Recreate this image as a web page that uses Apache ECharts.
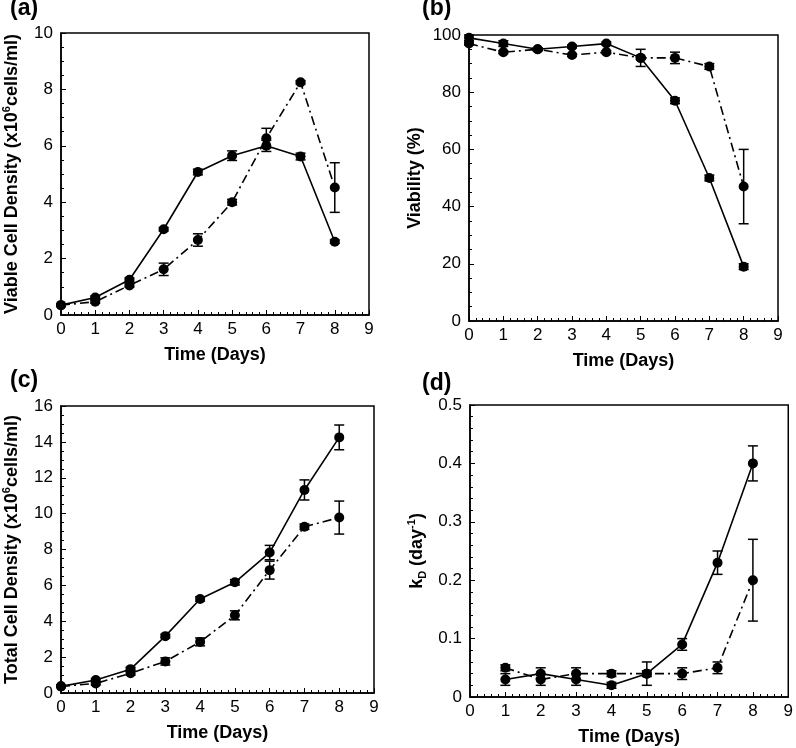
<!DOCTYPE html>
<html>
<head>
<meta charset="utf-8">
<script src="https://cdn.jsdelivr.net/npm/echarts@6/dist/echarts.min.js"></script>
<style>
html,body{margin:0;padding:0;background:#fff;}
#chart{width:796px;height:748px;}
</style>
</head>
<body>
<div id="chart"></div>
<script>
// ---------- data ----------
const days = [0, 1, 2, 3, 4, 5, 6, 7, 8];
const daysD = [1, 2, 3, 4, 5, 6, 7, 8];
const xTicks = [0, 1, 2, 3, 4, 5, 6, 7, 8, 9];

// (a) Viable cell density (x10^6 cells/ml)
const viableSolid = [0.35, 0.62, 1.25, 3.04, 5.07, 5.65, 6.0, 5.62, 2.6];
const viableSolidErr = [0.03, 0.05, 0.06, 0.06, 0.1, 0.17, 0.2, 0.12, 0.06];
const viableDash = [0.35, 0.47, 1.05, 1.62, 2.66, 4.0, 6.27, 8.25, 4.52];
const viableDashErr = [0.03, 0.05, 0.06, 0.22, 0.22, 0.1, 0.35, 0.06, 0.88];

// (b) Viability (%)
const viabSolid = [99, 97, 95, 96, 97, 92, 77, 50, 19];
const viabSolidErr = [1, 1, 0.5, 0.5, 0.5, 3, 1, 1, 1];
const viabDash = [97, 94, 95, 93, 94, 92, 92, 89, 47];
const viabDashErr = [0.5, 0.5, 0.5, 0.5, 0.5, 0.5, 2, 1, 13];

// (c) Total cell density (x10^6 cells/ml)
const totalSolid = [0.37, 0.72, 1.33, 3.17, 5.24, 6.17, 7.83, 11.32, 14.25];
const totalSolidErr = [0.05, 0.08, 0.1, 0.1, 0.12, 0.15, 0.4, 0.56, 0.69];
const totalDash = [0.37, 0.53, 1.1, 1.76, 2.85, 4.33, 6.85, 9.27, 9.78];
const totalDashErr = [0.05, 0.08, 0.1, 0.2, 0.22, 0.25, 0.5, 0.15, 0.92];

// (d) kD (day^-1)
const kdSolid = [0.03, 0.04, 0.03, 0.02, 0.04, 0.09, 0.23, 0.40];
const kdSolidErr = [0.01, 0.01, 0.01, 0.005, 0.02, 0.01, 0.02, 0.03];
const kdDash = [0.05, 0.03, 0.04, 0.04, 0.04, 0.04, 0.05, 0.20];
const kdDashErr = [0.005, 0.01, 0.01, 0.005, 0.005, 0.01, 0.01, 0.07];

// ---------- chart ----------
const FONT = 'Liberation Sans, Arial, sans-serif';
const BLACK = '#000';
const DASHDOT = [9, 4, 2, 4];

const grids = [
  {left: 59, top: 33, width: 310, height: 282},
  {left: 469, top: 35, width: 309, height: 286},
  {left: 59, top: 406, width: 315, height: 287},
  {left: 470, top: 405, width: 319, height: 292}
].map(g => Object.assign({show: true, borderColor: BLACK, borderWidth: 1.5, backgroundColor: 'transparent', containLabel: false}, g));

const yCfg = [
  {min: 0, max: 10, interval: 2, minor: 4, gap: 38,
   name: '{t|Viable Cell Density (x10}{sup|6}{t|cells/ml)}'},
  {min: 0, max: 100, interval: 20, minor: 4, gap: 43,
   name: '{t|Viability (%)}'},
  {min: 0, max: 16, interval: 2, minor: 4, gap: 38,
   name: '{t|Total Cell Density (x10}{sup|6}{t|cells/ml)}'},
  {min: 0, max: 0.5, interval: 0.1, minor: 5, gap: 42,
   name: '{t|k}{sub|D}{t| (day}{sup|-1}{t|)}'}
];

const richName = {
  t: {fontFamily: FONT, fontSize: 18, fontWeight: 'bold', color: BLACK, lineHeight: 22, verticalAlign: 'middle'},
  sup: {fontFamily: FONT, fontSize: 11, fontWeight: 'bold', color: BLACK, lineHeight: 22, verticalAlign: 'top', padding: [0, 0, 10, 0]},
  sub: {fontFamily: FONT, fontSize: 11, fontWeight: 'bold', color: BLACK, lineHeight: 22, verticalAlign: 'bottom', padding: [8, 0, 0, 0]}
};

const xAxes = grids.map((g, i) => ({
  type: 'value', gridIndex: i, min: xTicks[0], max: xTicks[xTicks.length - 1], interval: 1,
  name: 'Time (Days)', nameLocation: 'middle', nameGap: 31,
  nameTextStyle: {fontFamily: FONT, fontSize: 18, fontWeight: 'bold', color: BLACK},
  axisLine: {show: true, onZero: false, lineStyle: {color: BLACK, width: 1.5}},
  axisTick: {show: true, inside: true, length: 5, lineStyle: {color: BLACK, width: 1}},
  minorTick: {show: true, splitNumber: 5, length: 3, lineStyle: {color: BLACK, width: 1}},
  splitLine: {show: false}, minorSplitLine: {show: false},
  axisLabel: {fontFamily: FONT, fontSize: 17, color: BLACK, margin: 6}
}));

const yAxes = yCfg.map((c, i) => ({
  type: 'value', gridIndex: i, min: c.min, max: c.max, interval: c.interval,
  name: c.name, nameLocation: 'middle', nameGap: c.gap, nameRotate: 90,
  nameTextStyle: {rich: richName},
  axisLine: {show: true, onZero: false, lineStyle: {color: BLACK, width: 1.5}},
  axisTick: {show: true, inside: true, length: 5, lineStyle: {color: BLACK, width: 1}},
  minorTick: {show: true, splitNumber: c.minor, length: 3, lineStyle: {color: BLACK, width: 1}},
  splitLine: {show: false}, minorSplitLine: {show: false},
  axisLabel: {fontFamily: FONT, fontSize: 17, color: BLACK, margin: 8}
}));

function pairs(xs, ys) { return xs.map((x, i) => [x, ys[i]]); }
function triples(xs, ys, es) { return xs.map((x, i) => [x, ys[i], es[i]]); }

function lineSeries(idx, xs, ys, dash) {
  return {
    type: 'line', xAxisIndex: idx, yAxisIndex: idx, data: pairs(xs, ys),
    symbol: 'circle', symbolSize: 10, showSymbol: true,
    itemStyle: {color: BLACK},
    lineStyle: {color: BLACK, width: 1.6, type: dash ? DASHDOT : 'solid'},
    z: 3, animation: false, silent: true
  };
}

function errSeries(idx, xs, ys, es) {
  return {
    type: 'custom', xAxisIndex: idx, yAxisIndex: idx, data: triples(xs, ys, es),
    encode: {x: 0, y: 1}, z: 4, animation: false, silent: true, clip: false,
    renderItem: function (params, api) {
      const x = api.value(0), y = api.value(1), e = api.value(2);
      const top = api.coord([x, y + e]);
      const bot = api.coord([x, y - e]);
      const hw = 5;
      const st = {stroke: BLACK, lineWidth: 1.5};
      return {
        type: 'group',
        children: [
          {type: 'line', shape: {x1: top[0], y1: top[1], x2: bot[0], y2: bot[1]}, style: st},
          {type: 'line', shape: {x1: top[0] - hw, y1: top[1], x2: top[0] + hw, y2: top[1]}, style: st},
          {type: 'line', shape: {x1: bot[0] - hw, y1: bot[1], x2: bot[0] + hw, y2: bot[1]}, style: st}
        ]
      };
    }
  };
}

const series = [
  lineSeries(0, days, viableSolid, false), lineSeries(0, days, viableDash, true),
  errSeries(0, days, viableSolid, viableSolidErr), errSeries(0, days, viableDash, viableDashErr),
  lineSeries(1, days, viabSolid, false), lineSeries(1, days, viabDash, true),
  errSeries(1, days, viabSolid, viabSolidErr), errSeries(1, days, viabDash, viabDashErr),
  lineSeries(2, days, totalSolid, false), lineSeries(2, days, totalDash, true),
  errSeries(2, days, totalSolid, totalSolidErr), errSeries(2, days, totalDash, totalDashErr),
  lineSeries(3, daysD, kdSolid, false), lineSeries(3, daysD, kdDash, true),
  errSeries(3, daysD, kdSolid, kdSolidErr), errSeries(3, daysD, kdDash, kdDashErr)
];

const panelLabels = ['(a)', '(b)', '(c)', '(d)'];
const labelPos = [[10, -3], [422, -3], [10, 369], [422, 372]];
const titles = panelLabels.map((t, i) => ({
  text: t, left: labelPos[i][0], top: labelPos[i][1], padding: 0,
  textStyle: {fontFamily: FONT, fontSize: 23, fontWeight: 'bold', color: BLACK}
}));

const chart = echarts.init(document.getElementById('chart'), null, {renderer: 'canvas'});
chart.setOption({
  animation: false,
  backgroundColor: '#fff',
  title: titles,
  grid: grids,
  xAxis: xAxes,
  yAxis: yAxes,
  series: series
});
</script>
</body>
</html>
